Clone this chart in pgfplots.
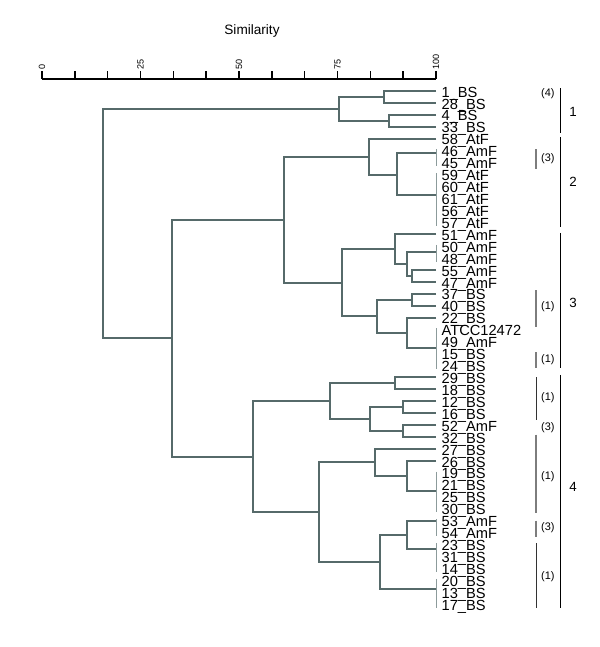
\documentclass[border=0pt]{standalone}
\usepackage{fontspec}
\setmainfont{Liberation Sans}
\usepackage{pgfplots}
\pgfplotsset{compat=1.18}
\definecolor{dendro}{RGB}{86,106,106}
\definecolor{tie}{RGB}{140,155,155}
\definecolor{subbr}{RGB}{125,125,125}
\begin{document}
\begin{tikzpicture}[
 leaf/.style={anchor=base west, inner sep=0pt, xshift=4pt, yshift=-4.6pt, font=\fontsize{11}{12}\selectfont},
 grp/.style={anchor=center, inner sep=0pt, font=\fontsize{10}{11}\selectfont},
 sub/.style={anchor=center, inner sep=0pt, font=\fontsize{8.2}{9}\selectfont},
]
\useasboundingbox (0,0) rectangle (450pt,-485.25pt);
\node[font=\fontsize{10.2}{12}\selectfont] at (189pt,-23.5pt) {Similarity};
\begin{axis}[
 at={(31.5pt,-59.3pt)}, anchor=north west,
 scale only axis, width=295.5pt, height=398.2pt,
 xmin=0, xmax=100, ymin=-43.5, ymax=1,
 hide y axis, axis x line*=top,
 axis line style={black, line width=1.2pt},
 xtick={0,25,50,75,100},
 minor xtick={8.3333,16.6667,33.3333,41.6667,58.3333,66.6667,83.3333,91.6667},
 tick align=outside, major tick length=6pt, minor tick length=6pt,
 tick style={black, line width=1.2pt},
 xticklabel style={rotate=90, anchor=west, inner sep=1pt, font=\fontsize{6.8}{7}\selectfont},
 /pgf/number format/assume math mode=true,
 clip=false, unbounded coords=jump,
]
% dendrogram links
\addplot[dendro, line width=1.5pt] coordinates {
(100,0) (86.8,0) (86.8,-1) (100,-1) (nan,nan)
(100,-2) (88,-2) (88,-3) (100,-3) (nan,nan)
(86.8,-0.5) (75.4,-0.5) (75.4,-2.5) (88,-2.5) (nan,nan)
(100,-5.2) (90,-5.2) (90,-8.7) (100,-8.7) (nan,nan)
(100,-4) (82.9,-4) (82.9,-7) (90,-7) (nan,nan)
(100,-15) (93.9,-15) (93.9,-16) (100,-16) (nan,nan)
(100,-13.5) (92.6,-13.5) (92.6,-15.5) (93.9,-15.5) (nan,nan)
(100,-12) (89.5,-12) (89.5,-14.5) (92.6,-14.5) (nan,nan)
(100,-17) (93.9,-17) (93.9,-18) (100,-18) (nan,nan)
(100,-19) (92.6,-19) (92.6,-21.5) (100,-21.5) (nan,nan)
(93.9,-17.5) (85,-17.5) (85,-20.25) (92.6,-20.25) (nan,nan)
(89.5,-13.25) (76.1,-13.25) (76.1,-18.875) (85,-18.875) (nan,nan)
(82.9,-5.5) (61.3,-5.5) (61.3,-16.06) (76.1,-16.06) (nan,nan)
(100,-24) (89.7,-24) (89.7,-25) (100,-25) (nan,nan)
(100,-26) (91.6,-26) (91.6,-27) (100,-27) (nan,nan)
(100,-28) (91.6,-28) (91.6,-29) (100,-29) (nan,nan)
(91.6,-26.5) (83.3,-26.5) (83.3,-28.5) (91.6,-28.5) (nan,nan)
(89.7,-24.5) (73,-24.5) (73,-27.5) (83.3,-27.5) (nan,nan)
(100,-31) (92.6,-31) (92.6,-33.5) (100,-33.5) (nan,nan)
(100,-30) (84.6,-30) (84.6,-32.25) (92.6,-32.25) (nan,nan)
(100,-36) (92.6,-36) (92.6,-38.4) (100,-38.4) (nan,nan)
(92.6,-37.2) (85.9,-37.2) (85.9,-41.7) (100,-41.7) (nan,nan)
(84.6,-31.125) (70.3,-31.125) (70.3,-39.45) (85.9,-39.45) (nan,nan)
(73,-26) (53.6,-26) (53.6,-35.29) (70.3,-35.29) (nan,nan)
(61.3,-10.78) (32.9,-10.78) (32.9,-30.64) (53.6,-30.64) (nan,nan)
(75.4,-1.5) (15.4,-1.5) (15.4,-20.71) (32.9,-20.71)
};
% identical (100%) ties
\addplot[tie, line width=0.7pt] coordinates {
(100,-4.9) (100,-6.3) (nan,nan)
(100,-6.9) (100,-11.3) (nan,nan)
(100,-12.9) (100,-14.3) (nan,nan)
(100,-19.9) (100,-23.3) (nan,nan)
(100,-31.9) (100,-35.3) (nan,nan)
(100,-35.9) (100,-37.3) (nan,nan)
(100,-37.9) (100,-40.3) (nan,nan)
(100,-40.9) (100,-43.3)
};
% group brackets
\addplot[black, line width=0.8pt] coordinates {
(131.5,0.25) (131.5,-3.5) (nan,nan)
(131.5,-3.85) (131.5,-11.4) (nan,nan)
(131.5,-11.9) (131.5,-23.2) (nan,nan)
(131.5,-23.8) (131.5,-43.3)
};
\addplot[subbr, line width=1.4pt] coordinates {
(125.4,-4.9) (125.4,-6.5) (nan,nan)
(125.4,-16.7) (125.4,-19.8) (nan,nan)
(125.4,-21.9) (125.4,-23.2) (nan,nan)
(125.4,-28.8) (125.4,-35.4) (nan,nan)
(125.4,-36.0) (125.4,-37.4)
};
\addplot[black!80, line width=0.8pt] coordinates {
(125.4,-24.0) (125.4,-27.6) (nan,nan)
(125.4,-37.9) (125.4,-43.3)
};
\node[grp] at (axis cs:134.8,-1.76) {1};
\node[grp] at (axis cs:134.8,-7.6) {2};
\node[grp] at (axis cs:134.8,-17.8) {3};
\node[grp] at (axis cs:134.8,-33.2) {4};
\node[sub] at (axis cs:128.4,-0.2) {(4)};
\node[sub] at (axis cs:128.4,-5.7) {(3)};
\node[sub] at (axis cs:128.4,-18.1) {(1)};
\node[sub] at (axis cs:128.4,-22.5) {(1)};
\node[sub] at (axis cs:128.4,-25.7) {(1)};
\node[sub] at (axis cs:128.4,-28.2) {(3)};
\node[sub] at (axis cs:128.4,-32.3) {(1)};
\node[sub] at (axis cs:128.4,-36.6) {(3)};
\node[sub] at (axis cs:128.4,-40.7) {(1)};
% leaf labels
\node[leaf] at (axis cs:100,0) {1\_BS};
\node[leaf] at (axis cs:100,-1) {28\_BS};
\node[leaf] at (axis cs:100,-2) {4\_BS};
\node[leaf] at (axis cs:100,-3) {33\_BS};
\node[leaf] at (axis cs:100,-4) {58\_AtF};
\node[leaf] at (axis cs:100,-5) {46\_AmF};
\node[leaf] at (axis cs:100,-6) {45\_AmF};
\node[leaf] at (axis cs:100,-7) {59\_AtF};
\node[leaf] at (axis cs:100,-8) {60\_AtF};
\node[leaf] at (axis cs:100,-9) {61\_AtF};
\node[leaf] at (axis cs:100,-10) {56\_AtF};
\node[leaf] at (axis cs:100,-11) {57\_AtF};
\node[leaf] at (axis cs:100,-12) {51\_AmF};
\node[leaf] at (axis cs:100,-13) {50\_AmF};
\node[leaf] at (axis cs:100,-14) {48\_AmF};
\node[leaf] at (axis cs:100,-15) {55\_AmF};
\node[leaf] at (axis cs:100,-16) {47\_AmF};
\node[leaf] at (axis cs:100,-17) {37\_BS};
\node[leaf] at (axis cs:100,-18) {40\_BS};
\node[leaf] at (axis cs:100,-19) {22\_BS};
\node[leaf] at (axis cs:100,-20) {ATCC12472};
\node[leaf] at (axis cs:100,-21) {49\_AmF};
\node[leaf] at (axis cs:100,-22) {15\_BS};
\node[leaf] at (axis cs:100,-23) {24\_BS};
\node[leaf] at (axis cs:100,-24) {29\_BS};
\node[leaf] at (axis cs:100,-25) {18\_BS};
\node[leaf] at (axis cs:100,-26) {12\_BS};
\node[leaf] at (axis cs:100,-27) {16\_BS};
\node[leaf] at (axis cs:100,-28) {52\_AmF};
\node[leaf] at (axis cs:100,-29) {32\_BS};
\node[leaf] at (axis cs:100,-30) {27\_BS};
\node[leaf] at (axis cs:100,-31) {26\_BS};
\node[leaf] at (axis cs:100,-32) {19\_BS};
\node[leaf] at (axis cs:100,-33) {21\_BS};
\node[leaf] at (axis cs:100,-34) {25\_BS};
\node[leaf] at (axis cs:100,-35) {30\_BS};
\node[leaf] at (axis cs:100,-36) {53\_AmF};
\node[leaf] at (axis cs:100,-37) {54\_AmF};
\node[leaf] at (axis cs:100,-38) {23\_BS};
\node[leaf] at (axis cs:100,-39) {31\_BS};
\node[leaf] at (axis cs:100,-40) {14\_BS};
\node[leaf] at (axis cs:100,-41) {20\_BS};
\node[leaf] at (axis cs:100,-42) {13\_BS};
\node[leaf] at (axis cs:100,-43) {17\_BS};
\end{axis}
\end{tikzpicture}
\end{document}
